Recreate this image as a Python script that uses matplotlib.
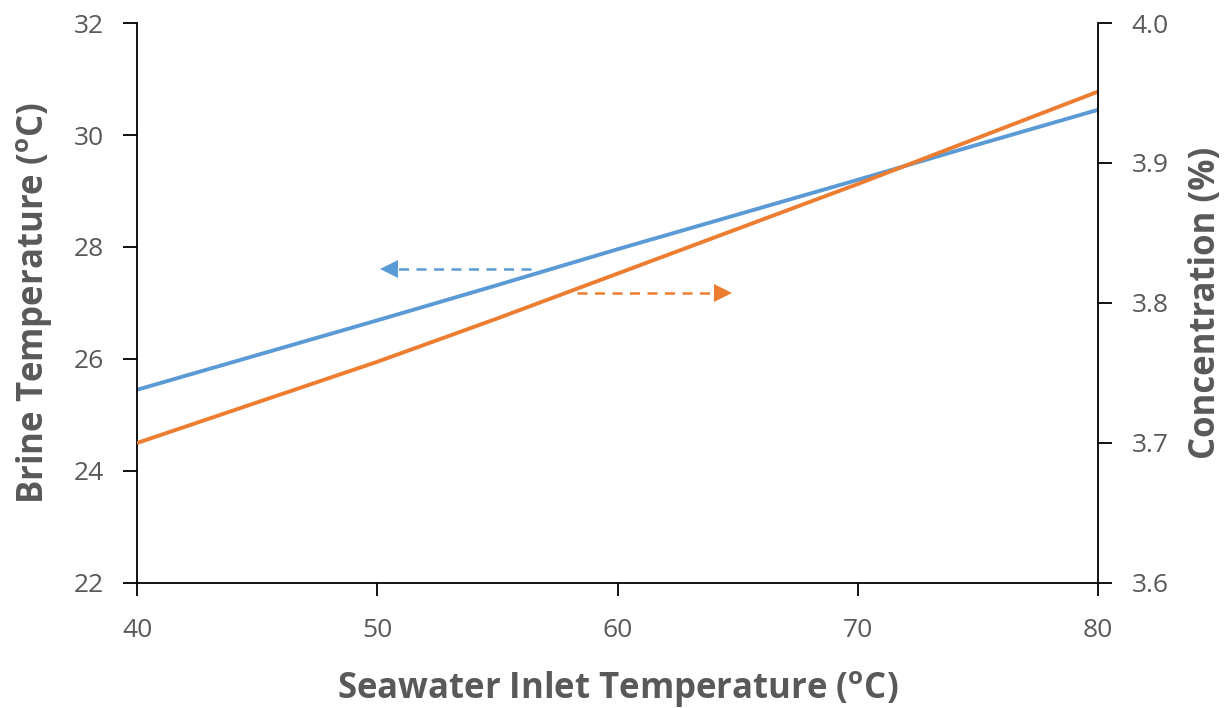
import numpy as np
import matplotlib.pyplot as plt

plt.rcParams['font.family'] = ['Open Sans', 'DejaVu Sans']
plt.rcParams['mathtext.fontset'] = 'custom'
plt.rcParams['mathtext.rm'] = 'Open Sans'
plt.rcParams['mathtext.bf'] = 'Open Sans:bold'

seawater_t = [40, 45, 50, 55, 60, 65, 70, 75, 80]
brine_t = [25.45, 26.07, 26.69, 27.32, 27.96, 28.58, 29.20, 29.83, 30.45]
concentration = [3.700, 3.729, 3.758, 3.789, 3.821, 3.853, 3.885, 3.918, 3.951]

# axis indicator arrows: (tail x, head x, y)
blue_arrow = (56.4, 50.2, 27.6)
orange_arrow = (58.3, 64.7, 3.807)

blue = '#5B9BD5'
orange = '#ED7D31'
grey = '#595959'

fig = plt.figure(figsize=(12.28, 7.08), dpi=100)
ax = fig.add_axes([0.1116, 0.1766, 0.7826, 0.7909])
ax2 = ax.twinx()

ax.plot(seawater_t, brine_t, color=blue, lw=2.8, solid_capstyle='butt')
ax2.plot(seawater_t, concentration, color=orange, lw=2.8, solid_capstyle='butt')

ax.set_xlim(40, 80)
ax.set_ylim(22, 32)
ax2.set_ylim(3.6, 4.0)
ax.set_xticks([40, 50, 60, 70, 80])
ax.set_yticks([22, 24, 26, 28, 30, 32])
ax2.set_yticks([3.6, 3.7, 3.8, 3.9, 4.0])
ax2.set_yticklabels(['3.6', '3.7', '3.8', '3.9', '4.0'])

for a in (ax, ax2):
    a.spines['top'].set_visible(False)
    for s in a.spines.values():
        s.set_linewidth(1.3)
        s.set_color('black')
ax.spines['right'].set_visible(False)
ax2.spines['left'].set_visible(False)
ax2.spines['bottom'].set_visible(False)

ax.tick_params(axis='x', direction='out', length=9, width=1.3, pad=16,
               labelsize=19, labelcolor=grey)
ax.tick_params(axis='y', direction='out', length=10, width=1.3, pad=14,
               labelsize=19, labelcolor=grey)
ax2.tick_params(axis='y', direction='out', length=10, width=1.3, pad=14,
                labelsize=19, labelcolor=grey)

ax.set_xlabel(r'Seawater Inlet Temperature ($\mathbf{^{o}}$C)', fontsize=25,
              fontweight='bold', color=grey, labelpad=18)
ax.set_ylabel(r'Brine Temperature ($\mathbf{^{o}}$C)', fontsize=25,
              fontweight='bold', color=grey, labelpad=14)
ax2.set_ylabel('Concentration (%)', fontsize=25, fontweight='bold',
               color=grey, labelpad=14)

# dashed shafts with solid triangular heads
tx, hx, y = blue_arrow
ax.plot([tx, hx + 0.6], [y, y], color=blue, lw=1.8, linestyle=(0, (4, 3)))
ax.plot([hx + 0.3], [y], marker='<', color=blue, markersize=13, markeredgewidth=0)
tx, hx, y = orange_arrow
ax2.plot([tx, hx - 0.6], [y, y], color=orange, lw=1.8, linestyle=(0, (4, 3)))
ax2.plot([hx - 0.3], [y], marker='>', color=orange, markersize=13, markeredgewidth=0)

fig.savefig('out.png', dpi=100)
